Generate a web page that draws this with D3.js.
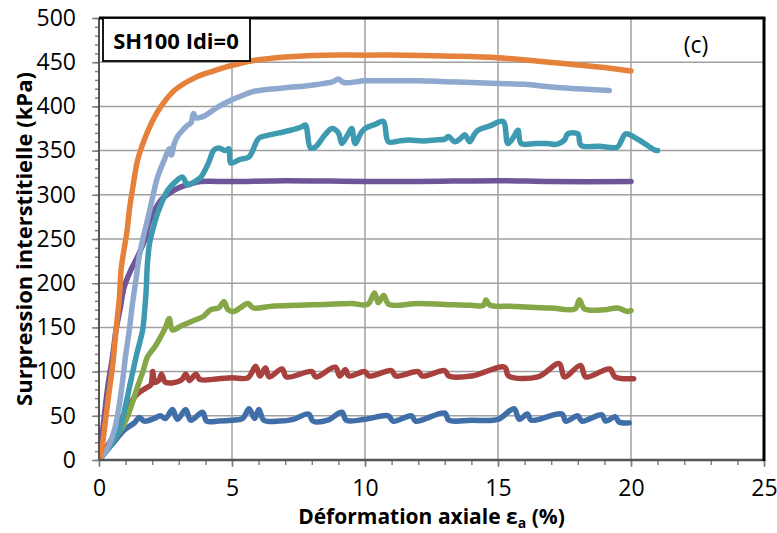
<!DOCTYPE html>
<html><head><meta charset="utf-8">
<script src="https://cdn.jsdelivr.net/npm/d3@7/dist/d3.min.js"></script>
<style>body{margin:0;background:#fff}svg{display:block}</style>
</head><body>
<svg id="c" width="777" height="533"></svg>
<script>
const xTicks = [0,5,10,15,20,25];
const yTicks = [0,50,100,150,200,250,300,350,400,450,500];
const panelLabel = "SH100 Idi=0";
const cornerLabel = "(c)";

const orange = [[0,0],[0.1,11],[0.2,34],[0.35,70],[0.52,109],[0.65,150],[0.77,185],[0.83,215],[0.95,240],[1.05,258],[1.15,285],[1.28,310],[1.45,339],[1.7,362],[2.0,383],[2.33,400],[2.83,418],[3.58,432],[4.3,440],[4.82,445],[5.82,452],[7,456],[8.5,458],[10,458],[11.5,458],[13,457],[15,455],[17.25,449],[19,444],[20,440]];
const lightBlue = [[0,0],[0.3,12],[0.58,34],[0.75,60],[0.89,90],[1.0,118],[1.14,147],[1.25,175],[1.39,204],[1.5,228],[1.64,249],[1.85,275],[2.0,295],[2.2,320],[2.45,339],[2.65,352],[2.72,345],[2.83,358],[2.95,366],[3.14,373],[3.3,378],[3.45,381],[3.55,392],[3.65,387],[3.95,389],[4.4,398],[4.82,405],[5.2,410],[5.82,417],[7,421],[8,424],[8.8,428],[9,431],[9.2,427],[10,429],[11,429],[12,429],[13,428],[14,427],[15,426],[16,425],[17,422],[18,420],[19.18,418]];
const teal = [[0,0],[0.4,15],[0.77,34],[1.0,62],[1.2,90],[1.42,120],[1.64,147],[1.72,170],[1.77,190],[1.82,222],[1.9,245],[2.0,258],[2.2,279],[2.4,294],[2.58,305],[2.85,314],[3.14,320],[3.33,311],[3.6,315],[3.83,320],[4.1,335],[4.33,351],[4.51,353],[4.75,350],[4.89,352],[4.95,336],[5.3,340],[5.64,343],[6.01,364],[6.3,367],[6.76,370],[7.2,373],[7.63,377],[7.76,379],[7.95,353],[8.13,354],[8.5,368],[8.76,375],[9.0,370],[9.13,358],[9.35,368],[9.5,375],[9.63,358],[9.85,370],[10.0,375],[10.4,380],[10.69,383],[10.88,360],[11.3,361],[11.63,362],[12.2,361],[12.63,362],[13.0,363],[13.13,366],[13.38,360],[13.6,364],[13.75,368],[13.94,360],[14.1,368],[14.25,373],[14.7,378],[15.19,383],[15.37,358],[15.6,366],[15.75,373],[15.87,358],[16.4,358],[16.87,358],[17.2,357],[17.5,362],[17.62,369],[18.0,369],[18.12,356],[18.8,355],[19.49,354],[19.65,362],[19.8,369],[20.3,362],[20.87,351],[21.0,350]];
const purple = [[0,0],[0.08,19],[0.2,50],[0.33,83],[0.5,115],[0.64,147],[0.8,172],[0.95,196],[1.2,215],[1.45,230],[1.77,253],[1.83,264],[2.05,280],[2.33,294],[2.7,303],[3.08,309],[3.5,313],[3.83,315],[5,315],[7,316],[10,315],[12,315],[15,316],[17,315],[20,315]];
const green = [[0,0],[0.5,20],[0.95,41],[1.2,60],[1.45,83],[1.65,100],[1.83,117],[2.1,128],[2.33,140],[2.5,150],[2.64,160],[2.76,147],[3.1,152],[3.58,158],[3.9,162],[4.2,170],[4.5,172],[4.7,179],[4.85,170],[5.07,168],[5.3,172],[5.6,177],[5.8,172],[6.5,174],[7.5,175],[8.5,176],[9.5,177],[10.1,176],[10.36,189],[10.5,178],[10.7,186],[10.9,176],[12,177],[13,176],[14,175],[14.45,175],[14.55,181],[14.7,175],[15.5,174],[16,173],[17,172],[17.9,171],[18.06,181],[18.25,171],[19,170],[19.5,172],[19.87,168],[20,169]];
const red = [[0,0],[0.5,25],[1.08,60],[1.45,75],[1.8,82],[1.95,85],[2.02,100],[2.1,88],[2.25,90],[2.35,97],[2.5,88],[3.08,90],[3.26,97],[3.4,90],[3.64,97],[3.8,91],[4.5,92],[5.0,93],[5.6,93],[5.89,106],[6.05,95],[6.26,104],[6.4,94],[6.88,103],[7.05,94],[8.0,100],[8.15,94],[8.88,105],[9.05,95],[9.26,102],[9.4,95],[10.0,100],[10.15,95],[11.0,101],[11.15,95],[12.0,100],[12.15,95],[13.0,101],[13.15,95],[14,95],[15.25,105],[15.4,95],[16.5,94],[17.3,109],[17.5,94],[18.1,107],[18.3,94],[19.2,103],[19.4,94],[20.1,92]];
const blue = [[0,0],[0.5,18],[0.95,34],[1.33,42],[1.52,48],[1.7,44],[2.08,47],[2.3,50],[2.5,47],[2.76,57],[2.95,46],[3.26,57],[3.45,45],[3.89,54],[4.05,44],[4.5,44],[5.0,45],[5.4,47],[5.64,58],[5.85,47],[6.01,57],[6.2,45],[6.8,44],[7.3,46],[7.88,52],[8.05,44],[8.6,45],[9.13,54],[9.3,45],[10,46],[10.88,50],[11.05,44],[11.75,50],[11.9,44],[13.0,53],[13.15,45],[14,45],[15.0,46],[15.6,58],[15.8,46],[16.1,52],[16.25,45],[17.4,52],[17.55,44],[18.0,50],[18.15,44],[18.9,51],[19.05,44],[19.4,49],[19.55,43],[19.93,42]];

const series = [
  {data: purple, color:"#6E5597"},
  {data: blue, color:"#3F6EA8"},
  {data: red, color:"#A8403D"},
  {data: green, color:"#86A748"},
  {data: teal, color:"#3D9AB1"},
  {data: lightBlue, color:"#8EA8D0"},
  {data: orange, color:"#E5813A"}
];

const svg = d3.select("#c");
const L=99, R=764, T=18, B=460;
const x = d3.scaleLinear().domain([0,25]).range([L,R]);
const y = d3.scaleLinear().domain([0,500]).range([B,T]);
const font = "'Open Sans', sans-serif";

// gridlines
svg.append("g").selectAll("line").data(xTicks.slice(1,-1)).join("line")
  .attr("x1",d=>x(d)).attr("x2",d=>x(d)).attr("y1",T).attr("y2",B)
  .attr("stroke","#a0a0a0").attr("stroke-width",1.5);
svg.append("g").selectAll("line").data(yTicks.slice(1,-1)).join("line")
  .attr("y1",d=>y(d)).attr("y2",d=>y(d)).attr("x1",L).attr("x2",R)
  .attr("stroke","#a0a0a0").attr("stroke-width",1.5);

// axes with minor ticks
const yMinor = d3.range(0,501,10);
const xMinor = d3.range(0,26,1);
svg.append("g").attr("transform",`translate(${L},0)`)
  .call(d3.axisLeft(y).tickValues(yMinor).tickSize(4).tickFormat(""))
  .call(g=>{g.select(".domain").remove(); g.selectAll("line").attr("stroke","#808080").attr("stroke-width",1.5);});
svg.append("g").attr("transform",`translate(${L},0)`)
  .call(d3.axisLeft(y).tickValues(yTicks).tickSize(7).tickPadding(16))
  .call(g=>{g.select(".domain").remove(); g.selectAll("line").attr("stroke","#808080").attr("stroke-width",1.5);
    g.selectAll("text").attr("font-family",font).attr("font-size",23).attr("fill","#000");});
svg.append("g").attr("transform",`translate(0,${B})`)
  .call(d3.axisBottom(x).tickValues(xMinor).tickSize(5).tickFormat(""))
  .call(g=>{g.select(".domain").remove(); g.selectAll("line").attr("stroke","#808080").attr("stroke-width",1.5);});
svg.append("g").attr("transform",`translate(0,${B})`)
  .call(d3.axisBottom(x).tickValues(xTicks).tickSize(7).tickPadding(13))
  .call(g=>{g.select(".domain").remove(); g.selectAll("line").attr("stroke","#808080").attr("stroke-width",1.5);
    g.selectAll("text").attr("font-family",font).attr("font-size",23).attr("fill","#000");});

// clip
svg.append("clipPath").attr("id","clip").append("rect").attr("x",L).attr("y",T).attr("width",R-L).attr("height",B-T);

const lineSmooth = d3.line().x(d=>x(d[0])).y(d=>y(d[1])).curve(d3.curveCatmullRom.alpha(0.5));
svg.append("g").attr("clip-path","url(#clip)").selectAll("path").data(series).join("path")
  .attr("d",d=>lineSmooth(d.data)).attr("fill","none").attr("stroke",d=>d.color)
  .attr("stroke-width",5.5).attr("stroke-linejoin","round").attr("stroke-linecap","round");

// frame
svg.append("line").attr("x1",L).attr("x2",L).attr("y1",T).attr("y2",B).attr("stroke","#555").attr("stroke-width",2);
svg.append("line").attr("x1",L).attr("x2",R).attr("y1",B).attr("y2",B).attr("stroke","#555").attr("stroke-width",2.5);
svg.append("line").attr("x1",L).attr("x2",R+1.5).attr("y1",T).attr("y2",T).attr("stroke","#000").attr("stroke-width",3);
svg.append("line").attr("x1",R).attr("x2",R).attr("y1",T).attr("y2",B+1).attr("stroke","#000").attr("stroke-width",3);

// panel label box
svg.append("rect").attr("x",103).attr("y",T).attr("width",147).attr("height",43)
  .attr("fill","#fff").attr("stroke","#000").attr("stroke-width",1.8);
svg.append("text").attr("x",176).attr("y",49).attr("text-anchor","middle")
  .attr("font-family",font).attr("font-weight","bold").attr("font-size",22).text(panelLabel);
svg.append("text").attr("x",696).attr("y",53).attr("text-anchor","middle")
  .attr("font-family",font).attr("font-size",23).text(cornerLabel);

// axis titles
const xt = svg.append("text").attr("x",(L+R)/2).attr("y",524).attr("text-anchor","middle")
  .attr("font-family",font).attr("font-weight","bold").attr("font-size",21);
xt.append("tspan").text("Déformation axiale ε");
xt.append("tspan").attr("font-size",14).attr("dy",4).text("a");
xt.append("tspan").attr("dy",-4).text(" (%)");
svg.append("text").attr("transform",`translate(32,${(T+B)/2}) rotate(-90)`).attr("text-anchor","middle")
  .attr("font-family",font).attr("font-weight","bold").attr("font-size",22)
  .text("Surpression interstitielle (kPa)");
</script>
</body></html>
